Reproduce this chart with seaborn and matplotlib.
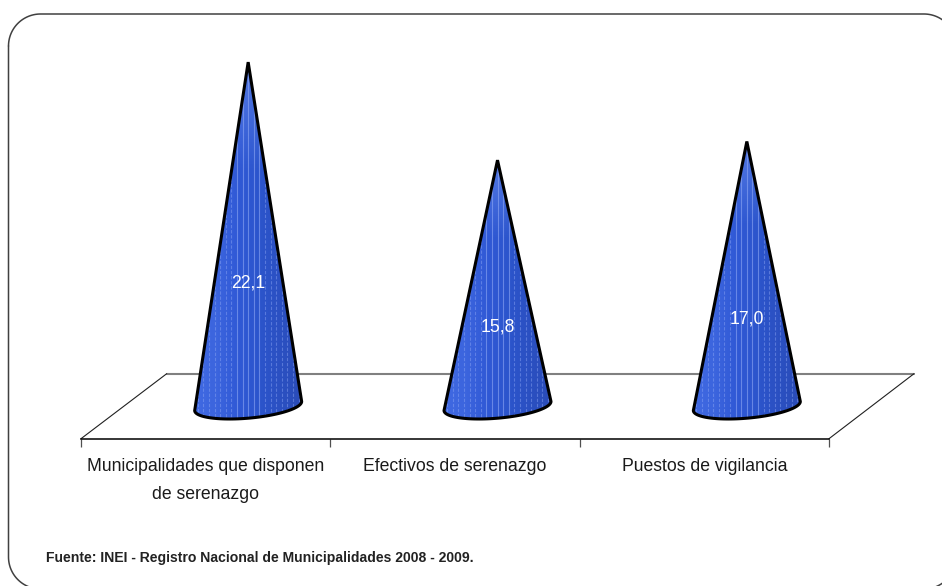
import numpy as np
import seaborn as sns
import matplotlib
matplotlib.use('Agg')
from matplotlib import pyplot as plt
from matplotlib.colors import LinearSegmentedColormap
from matplotlib.patches import Polygon
from matplotlib.ticker import FixedLocator

categorias = ['Municipalidades que disponen\nde serenazgo', 'Efectivos de serenazgo', 'Puestos de vigilancia']
valores = [22.1, 15.8, 17.0]
etiquetas = ['22,1', '15,8', '17,0']
fuente = 'Fuente: INEI - Registro Nacional de Municipalidades 2008 - 2009.'

W, H = 942, 586
PX = 15.56  # pixels per unit on the value axis

sns.set_theme(style='white')
plt.rcParams['font.family'] = ['Liberation Sans', 'DejaVu Sans']

fig = plt.figure(figsize=(W / 100, H / 100), dpi=100, facecolor='white')

# background layer in pixel coordinates: frame, floor
bg = fig.add_axes([0, 0, 1, 1], zorder=0)
bg.set_xlim(0, W)
bg.set_ylim(H, 0)
bg.axis('off')

# rounded frame, right and bottom edges run off the picture
r = 32
fx, fy = [], []
for cx, cy, a0 in [(8.5 + r, 14 + r, 180), (924, 14 + r, 270), (924, 557, 0), (8.5 + r, 557, 90)]:
    a = np.radians(np.linspace(a0, a0 + 90, 30))
    fx.extend(cx + r * np.cos(a))
    fy.extend(cy + r * np.sin(a))
bg.plot(fx + fx[:1], fy + fy[:1], color='#404040', lw=1.1)

bg.plot([166.7, 914], [373.7, 373.7], color='#808080', lw=1.5)
bg.plot([81, 166.7], [438.7, 373.7], color='#202020', lw=0.8)
bg.plot([829, 914], [438.7, 373.7], color='#202020', lw=0.8)
bg.text(46, 558, fuente, fontsize=10.1, fontweight='bold', color='#222222', va='center', ha='left')

# main axes, x from first to last tick, bottom on the floor front edge
left, right, bottom = 81, 829, 438.7
ymin = -(bottom - 406) / PX
ymax = 25.0
top = 406 - ymax * PX
ax = fig.add_axes([left / W, 1 - bottom / H, (right - left) / W, (bottom - top) / H], zorder=1)
ax.patch.set_alpha(0)

sns.barplot(x=categorias, y=valores, ax=ax, width=0.429, color='#2d58d0')
ax.set_xlim(-0.5, 2.5)
ax.set_ylim(ymin, ymax)

for s in ['top', 'left', 'right']:
    ax.spines[s].set_visible(False)
ax.spines['bottom'].set_color('black')
ax.spines['bottom'].set_linewidth(1.1)
ax.set_yticks([])
ax.xaxis.set_minor_locator(FixedLocator([-0.5, 0.5, 1.5, 2.5]))
ax.tick_params(axis='x', which='major', length=0, pad=14, labelsize=12.7, labelcolor='#1a1a1a')
ax.tick_params(axis='x', which='minor', bottom=True, length=5.5, width=0.9, color='#505050')
for lab in ax.get_xticklabels():
    lab.set_linespacing(1.8)

degradado = LinearSegmentedColormap.from_list(
    'cono', ['#4069e2', '#3c65de', '#3059d6', '#2c55cc', '#2b50c2', '#2a4cb8'])

# lighter towards the apex
brillo = np.ones((100, 1, 4))
brillo[:, 0, :3] = [0.55, 0.68, 1.0]
brillo[:, 0, 3] = 0.4 * np.clip(1 - np.linspace(0, 1, 100) / 0.3, 0, 1)

offset = 42.5 / 249.3  # cones stand in the middle of the floor depth
for p, v, txt in zip(list(ax.patches), valores, etiquetas):
    hw = p.get_width() / 2
    xc = p.get_x() + hw + offset
    h = p.get_height()
    p.set_visible(False)

    t = np.linspace(np.pi, 2 * np.pi, 60)
    bx = xc + hw * np.cos(t)
    by = 0.29 * np.cos(t) + 0.784 * np.sin(t)
    xy = np.vstack([[xc, h], np.column_stack([bx, by])])

    cono = Polygon(xy, closed=True, fc='none', ec='black', lw=2.2, joinstyle='bevel', zorder=4, clip_on=False)
    ax.add_patch(cono)
    clip = Polygon(xy, closed=True, transform=ax.transData)

    img = ax.imshow(np.linspace(0, 1, 200)[None, :], extent=[xc - hw, xc + hw, -1, h], cmap=degradado,
                    aspect='auto', zorder=2, interpolation='bilinear')
    img.set_clip_path(clip)
    luz = ax.imshow(brillo, extent=[xc - hw, xc + hw, -1, h], aspect='auto', zorder=2.5, interpolation='bilinear')
    luz.set_clip_path(clip)

    # light vertical streaks of the 3D surface
    for u in np.arange(-9, 10) * 5.6 / 249.3:
        centro = abs(u) < 0.05
        ln = ax.vlines(xc + u, -1, h, color='#8fa8f4', alpha=0.6 if centro else 0.45, lw=0.8, zorder=3,
                       linestyle='solid' if centro else (0, (3, 1.6)))
        ln.set_clip_path(clip)

    ax.text(xc, 0.45 * v - 2.03, txt, color='white', ha='center', va='center', fontsize=12.7, zorder=5)

ax.set_xlim(-0.5, 2.5)
ax.set_ylim(ymin, ymax)

fig.savefig('out.png', dpi=100)
